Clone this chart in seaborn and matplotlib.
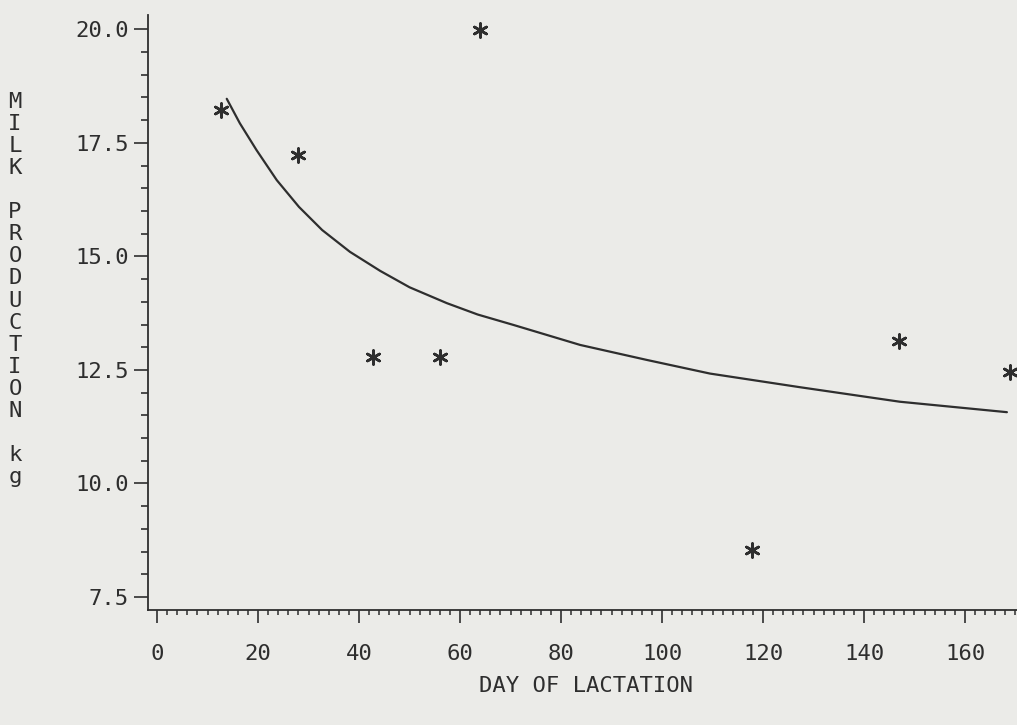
import numpy as np
import pandas as pd
import matplotlib
matplotlib.use("Agg")
import matplotlib.pyplot as plt
from matplotlib.ticker import MultipleLocator
import seaborn as sns

# 관측값 (별표)
day = [12.6, 28.0, 64.0, 42.8, 56.0, 117.8, 147.0, 169.0]
milk = [18.22, 17.23, 19.98, 12.79, 12.79, 8.53, 13.13, 12.45]

# 적합 곡선 (그림에서 읽은 점)
curve_day = [13.8, 16.4, 19.7, 23.7, 28.1, 32.7, 38.2, 44.2, 50.0, 57.4, 63.5, 70.6,
             83.8, 97.0, 109.5, 127.3, 147.1, 168.3]
curve_milk = [18.47, 17.93, 17.34, 16.68, 16.09, 15.58, 15.10, 14.68, 14.32, 13.97,
              13.72, 13.49, 13.05, 12.72, 12.42, 12.12, 11.80, 11.57]

x_ticks = [0, 20, 40, 60, 80, 100, 120, 140, 160]
y_ticks = [7.5, 10.0, 12.5, 15.0, 17.5, 20.0]
ylabel_text = "MILK PRODUCTION kg"
xlabel_text = "DAY OF LACTATION"

pts = pd.DataFrame({"day": day, "milk": milk})
fit = pd.DataFrame({"day": curve_day, "milk": curve_milk})

ink = "#2e2e2e"
paper = "#ebebe8"

sns.set_style("ticks")
plt.rcParams["font.family"] = ["DejaVu Sans Mono", "DejaVu Sans"]

fig = plt.figure(figsize=(10.17, 7.25), dpi=100, facecolor=paper)
ax = fig.add_axes([0.1455, 0.1586, 0.8545, 0.8204])
ax.set_facecolor(paper)

sns.lineplot(data=fit, x="day", y="milk", ax=ax, color=ink, linewidth=1.6)
sns.scatterplot(data=pts, x="day", y="milk", ax=ax, marker=(6, 2, 0), s=100,
                color=ink, linewidth=1.9, clip_on=False, zorder=5)

ax.set_xlim(-1.8, 170.3)
ax.set_ylim(7.214, 20.31)
ax.set_xticks(x_ticks)
ax.set_xticklabels([str(v) for v in x_ticks])
ax.set_yticks(y_ticks)
ax.set_yticklabels([f"{v:.1f}" for v in y_ticks])
ax.xaxis.set_minor_locator(MultipleLocator(2))
ax.yaxis.set_minor_locator(MultipleLocator(0.5))

for s in ["top", "right"]:
    ax.spines[s].set_visible(False)
for s in ["left", "bottom"]:
    ax.spines[s].set_color(ink)
    ax.spines[s].set_linewidth(1.3)

ax.tick_params(axis="y", which="major", direction="out", length=10, width=1.2,
               pad=4, labelsize=16, colors=ink)
ax.tick_params(axis="y", which="minor", direction="out", length=5, width=1.2, colors=ink)
ax.tick_params(axis="x", which="major", direction="out", length=9.5, width=1.2,
               pad=15, labelsize=16, colors=ink)
ax.tick_params(axis="x", which="minor", direction="out", length=3.8, width=1.1, colors=ink)

ax.set_xlabel("")
ax.set_ylabel("")

# 세로로 쌓은 y축 제목
stacked = "\n".join("" if c == " " else c for c in ylabel_text)
fig.text(15 / 1017, 1 - 289.5 / 725, stacked, ha="center", va="center",
         fontsize=16, linespacing=1.13, color=ink)
fig.text(586 / 1017, 1 - 686 / 725, xlabel_text, ha="center", va="center",
         fontsize=16, color=ink)

fig.savefig("out.png", dpi=100, facecolor=paper)
